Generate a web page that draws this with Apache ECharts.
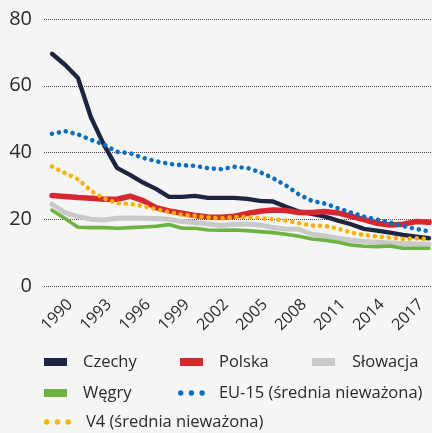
<!DOCTYPE html>
<html>
<head>
<meta charset="utf-8">
<script src="https://cdn.jsdelivr.net/npm/echarts@6/dist/echarts.min.js"></script>
<style>
  html, body { margin: 0; padding: 0; background: #f5f5f5; }
  #chart { width: 432px; height: 433px; }
</style>
</head>
<body>
<div id="chart"></div>
<script>
// Years covered by the series
const years = [1990, 1991, 1992, 1993, 1994, 1995, 1996, 1997, 1998, 1999,
               2000, 2001, 2002, 2003, 2004, 2005, 2006, 2007, 2008, 2009,
               2010, 2011, 2012, 2013, 2014, 2015, 2016, 2017, 2018, 2019];

// Years shown as labels under the chart
const yearLabels = [1990, 1993, 1996, 1999, 2002, 2005, 2008, 2011, 2014, 2017];

// Series values
const czechy = [69.6, 66.3, 62.3, 50.5, 42.3, 35.4, 33.3, 31.0, 29.1, 26.7,
                26.7, 27.0, 26.4, 26.4, 26.4, 26.1, 25.5, 25.3, 23.7, 22.3,
                21.6, 20.8, 19.6, 18.5, 17.1, 16.6, 16.0, 15.3, 14.8, 14.3];
const polska = [27.1, 26.8, 26.5, 26.3, 26.0, 26.0, 26.9, 25.6, 23.5, 22.5,
                21.8, 21.1, 20.7, 20.6, 20.9, 21.7, 22.4, 22.8, 22.6, 22.0,
                22.0, 22.3, 21.9, 20.9, 19.9, 18.8, 18.3, 18.5, 19.3, 19.1];
const slowacja = [24.5, 22.0, 20.8, 20.0, 19.8, 20.3, 20.4, 20.3, 20.2, 20.0,
                  19.3, 19.0, 18.6, 18.1, 18.5, 18.6, 18.3, 17.5, 17.1, 17.0,
                  15.5, 15.0, 14.3, 13.8, 13.3, 13.1, 12.9, 12.7, 12.6, 12.5];
const wegry = [22.7, 20.2, 17.6, 17.5, 17.5, 17.3, 17.5, 17.7, 17.9, 18.4,
               17.3, 17.3, 16.8, 16.7, 16.8, 16.6, 16.3, 16.0, 15.5, 14.9,
               14.1, 13.7, 13.1, 12.3, 11.9, 11.8, 12.0, 11.3, 11.3, 11.3];
const eu15 = [45.6, 46.4, 45.4, 43.8, 42.4, 40.2, 39.8, 38.4, 37.4, 36.6,
              36.2, 36.0, 35.3, 35.0, 35.7, 35.4, 34.1, 32.3, 30.1, 27.4,
              25.5, 24.7, 23.3, 22.0, 20.8, 19.9, 19.0, 18.0, 17.1, 16.4];
const v4 = [35.8, 33.8, 32.0, 28.5, 26.2, 24.8, 24.6, 24.0, 23.0, 22.2,
            21.3, 21.0, 20.5, 20.2, 20.7, 20.6, 20.3, 20.0, 19.6, 18.8,
            18.1, 18.0, 17.2, 16.0, 15.3, 14.8, 14.5, 14.1, 14.3, 14.0];

const FONT = '"Open Sans", "DejaVu Sans", sans-serif';
const TEXT = '#2b2b2b';

const pairs = vals => years.map((y, i) => [y, vals[i]]);

const solid = (name, vals, color, width) => ({
  name, type: 'line', data: pairs(vals), xAxisIndex: 0,
  showSymbol: false, symbol: 'none',
  lineStyle: { color, width, cap: 'round', join: 'round' },
  itemStyle: { color }
});
const dotted = (name, vals, color) => ({
  name, type: 'line', data: pairs(vals), xAxisIndex: 0,
  showSymbol: false, symbol: 'none',
  lineStyle: { color, width: 4.6, type: [0.01, 7], cap: 'round', join: 'round' },
  itemStyle: { color }
});

const rectIcon = 'path://M0,0H23V8H0Z';
const dotsIcon = 'path://M0,2.7a2.7,2.7 0 1,0 5.4,0a2.7,2.7 0 1,0 -5.4,0Z' +
                 'M10.7,2.7a2.7,2.7 0 1,0 5.4,0a2.7,2.7 0 1,0 -5.4,0Z' +
                 'M21.4,2.7a2.7,2.7 0 1,0 5.4,0a2.7,2.7 0 1,0 -5.4,0Z';

const legendItem = (name, icon, left, top, w, h, pad) => ({
  data: [{ name, icon }],
  left, top, padding: 0,
  itemWidth: w, itemHeight: h,
  selectedMode: false,
  textStyle: { fontFamily: FONT, fontSize: 16.5, color: TEXT, lineHeight: 20, padding: [0, 0, 0, pad] }
});

const chart = echarts.init(document.getElementById('chart'), null, { renderer: 'canvas' });
chart.setOption({
  backgroundColor: '#f5f5f5',
  animation: false,
  grid: { left: 44, right: 0, top: 19, bottom: 147, containLabel: false },
  xAxis: [
    {
      type: 'value', position: 'top', show: false,
      min: 1989.385, max: 2019.23
    },
    {
      type: 'value', position: 'bottom',
      min: 1988, max: 2017.846,
      axisLine: { show: false }, axisTick: { show: false }, splitLine: { show: false },
      axisLabel: {
        customValues: yearLabels, rotate: 45, margin: 16,
        fontFamily: FONT, fontSize: 16, color: TEXT,
        formatter: v => String(v)
      }
    }
  ],
  yAxis: {
    type: 'value', min: 0, max: 80, interval: 20,
    axisLine: { show: false }, axisTick: { show: false },
    axisLabel: { fontFamily: FONT, fontSize: 20, color: TEXT, margin: 12 },
    splitLine: { lineStyle: { color: '#4a4a4a', type: 'dotted', width: 1 } }
  },
  legend: [
    legendItem('Czechy', rectIcon, 44, 352, 23, 8, 11),
    legendItem('Polska', rectIcon, 180, 352, 23, 8, 11),
    legendItem('Słowacja', rectIcon, 312, 352, 23, 8, 12),
    legendItem('Węgry', rectIcon, 44, 383, 23, 8, 11),
    legendItem('EU-15 (średnia nieważona)', dotsIcon, 178, 383, 27, 5.4, 9),
    legendItem('V4 (średnia nieważona)', dotsIcon, 44, 412, 27, 5.4, 10)
  ],
  series: [
    solid('Czechy', czechy, '#1e2541', 4.4),
    solid('Polska', polska, '#d8262f', 5.5),
    solid('Słowacja', slowacja, '#c9c9c9', 5),
    solid('Węgry', wegry, '#6cb33f', 3.6),
    dotted('EU-15 (średnia nieważona)', eu15, '#0a6fc2'),
    dotted('V4 (średnia nieważona)', v4, '#ffb000')
  ]
});
</script>
</body>
</html>
